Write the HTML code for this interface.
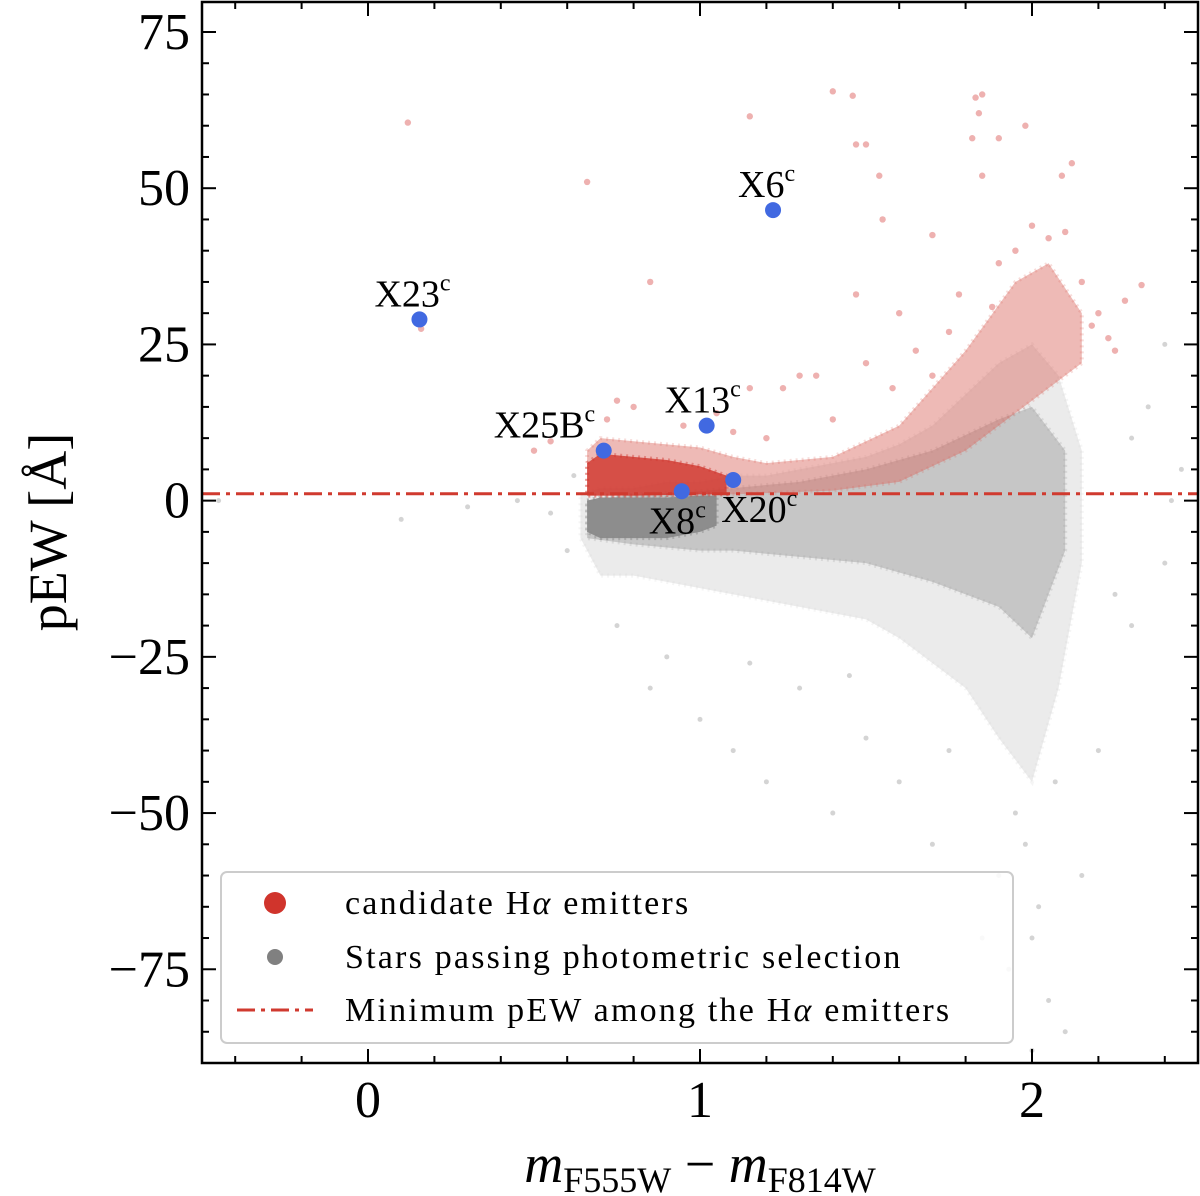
<!DOCTYPE html>
<html><head><meta charset="utf-8"><style>
html,body{margin:0;padding:0;background:#fff;}
body{position:relative;width:1200px;height:1196px;overflow:hidden}
svg{position:absolute;left:0;top:0}
svg text{font-family:"Liberation Serif","DejaVu Serif",serif;fill:#000;}
</style></head><body>
<svg id="chart" width="1200" height="1196" viewBox="0 0 1200 1196" xmlns="http://www.w3.org/2000/svg">
<g id="plot"></g>
<g id="axes"></g>
</svg>
<script>
// ---- data ----
const cloudX  = [0.64,0.7,0.8,0.9,1.0,1.1,1.2,1.3,1.4,1.5,1.6,1.7,1.8,1.9,2.0,2.08,2.15];
const cloudLo = [-6,-12,-12,-13,-14,-15,-16,-17,-18,-19,-22,-26,-30,-38,-45,-30,-10];
const cloudHi = [1,2,2,3,3,4,4,5,6,7,9,12,17,22,25,20,8];
const midX  = [0.66,0.8,1.0,1.1,1.3,1.5,1.7,1.9,2.0,2.1];
const midLo = [-6,-7,-8,-8,-9,-10,-13,-17,-22,-8];
const midHi = [0,1,1.5,2,3,5,8,13,15,8];
const coreX  = [0.66,0.7,0.8,0.9,1.0,1.05];
const coreLo = [-5,-6,-6,-6,-5,-4];
const coreHi = [0,0.5,0.5,0.5,0.8,0.8];
const redX  = [0.66,0.7,0.8,0.9,1.0,1.1,1.2,1.4,1.6,1.8,1.95,2.05,2.15];
const redLo = [0.8,0.8,0.8,0.9,1,1,1.2,1.6,3,8,14,18,22];
const redHi = [8,10,9.5,9,8.5,7,6,7,12,24,35,38,30];
const redCoreX  = [0.66,0.7,0.8,0.9,1.0,1.08];
const redCoreLo = [0.8,0.8,0.8,0.9,1,1];
const redCoreHi = [6,7.5,7,6.5,5.5,4];
const redPtsX = [0.12,0.66,0.85,1.15,1.4,1.46,1.47,1.5,1.54,1.83,1.85,1.84,1.82,1.9,1.98,1.85,1.7,1.55,2.05,2.1,2.12,2.09,1.47,1.6,1.75,2.33,2.25,1.3,1.25,0.55,0.5,0.75,0.72,0.8,1.15,1.35,1.5,1.65,1.9,1.95,2.0,2.15,2.2,1.78,1.88,0.16,1.05,0.95,1.1,1.2,1.4,1.58,1.7,2.18,2.23,2.28];
const redPtsY = [60.5,51,35,61.5,65.5,64.8,57,57,52,64.5,65,62,58,58,60,52,42.5,45,42,43,54,52,33,30,27,34.5,24,20,18,9.5,8,16,13,15,18,20,22,24,38,40,44,35,30,33,31,27.5,14,12,11,10,13,18,20,28,26,32];
const grayPtsX = [-0.45,0.3,0.1,0.45,0.55,1.0,1.2,1.1,1.5,1.7,1.9,2.0,2.05,2.1,1.95,2.2,2.3,2.4,2.45,2.35,2.4,1.3,0.9,0.75,1.6,2.15,1.85,2.0,0.6,0.62,2.25,2.3,2.42,1.45,1.75,1.98,2.02,1.93,2.07,1.4,0.85,1.15];
const grayPtsY = [0,-1,-3,0,-2,-35,-45,-40,-38,-55,-60,-70,-80,-85,-50,-40,-20,-10,5,15,25,-30,-25,-20,-45,-60,-70,-88,-8,4,-15,10,0,-28,-40,-55,-65,-75,-45,-50,-30,-26];
const blueX = [0.155,1.22,1.02,0.71,0.945,1.1];
const blueY = [29,46.5,12,8,1.5,3.3];
const blueLbl = ["X23","X6","X13","X25B","X8","X20"];
const lblDx = [-45,-35,-42,-110,-33,-12];
const lblDy = [-13,-13,-13,-13,42,42];
const minPEW = 1.1;
const xTicks = [0,1,2];
const yTicks = [75,50,25,0,-25,-50,-75];
// ---- axes ----
const L=202,R=1198,T=2,B=1063, xMin=-0.5,xMax=2.5,yMin=-90,yMax=79.8;
const sx=v=>L+(v-xMin)/(xMax-xMin)*(R-L);
const sy=v=>B-(v-yMin)/(yMax-yMin)*(B-T);
const NS="http://www.w3.org/2000/svg";
const plot=document.getElementById('plot'), axes=document.getElementById('axes');
function mk(tag,at,parent){const e=document.createElementNS(NS,tag);for(const k in at)e.setAttribute(k,at[k]);parent.appendChild(e);return e;}
function band(xs,lo,hi,fill,op,name){
  let p=xs.map((x,i)=>sx(x)+','+sy(hi[i])).join(' ')+' '+xs.map((x,i)=>sx(x)+','+sy(lo[i])).reverse().join(' ');
  const e=mk('polygon',{points:p,fill:fill,'fill-opacity':op,stroke:fill,'stroke-opacity':op*0.5,'stroke-width':4,'stroke-dasharray':'2,4'},plot);
  
  
}
band(cloudX,cloudLo,cloudHi,'#d8d8d8',0.5,'gray-star-cloud');
band(midX,midLo,midHi,'#a8a8a8',0.55,'gray-star-mid');
band(coreX,coreLo,coreHi,'#8a8a8a',0.95,'gray-star-core');
grayPtsX.forEach((x,i)=>{const c=mk('circle',{cx:sx(x),cy:sy(grayPtsY[i]),r:2.5,fill:'#aaa','fill-opacity':0.5},plot);

});
band(redX,redLo,redHi,'#d9655d',0.45,'red-emitter-cloud');
band(redCoreX,redCoreLo,redCoreHi,'#d0342c',0.8,'red-emitter-core');
redPtsX.forEach((x,i)=>{const c=mk('circle',{cx:sx(x),cy:sy(redPtsY[i]),r:3.2,fill:'#d9534f','fill-opacity':0.45},plot);

});
const ln=mk('line',{x1:L,x2:R,y1:sy(minPEW),y2:sy(minPEW),stroke:'#d03a2f','stroke-width':3,'stroke-dasharray':'18,6,4,6'},plot);


blueX.forEach((x,i)=>{const c=mk('circle',{cx:sx(x),cy:sy(blueY[i]),r:8,fill:'#4169e1'},plot);


const t=mk('text',{x:sx(x)+lblDx[i],y:sy(blueY[i])+lblDy[i],'font-size':38},plot);


t.textContent=blueLbl[i];const s=mk('tspan',{'font-size':24,dy:-16},t);s.textContent='c';});
const fr=mk('rect',{x:L,y:T,width:R-L,height:B-T,fill:'none',stroke:'#000','stroke-width':2.5},axes);


for(let v=-0.4;v<=2.41;v+=0.2){const X=sx(v);const maj=Math.abs(v-Math.round(v))<0.01;const len=maj?14:7;
mk('line',{x1:X,x2:X,y1:B,y2:B-len,stroke:'#000','stroke-width':2},axes);mk('line',{x1:X,x2:X,y1:T,y2:T+len,stroke:'#000','stroke-width':2},axes);}
for(let v=-85;v<=75;v+=5){const Y=sy(v);const maj=v%25===0;const len=maj?14:7;
mk('line',{x1:L,x2:L+len,y1:Y,y2:Y,stroke:'#000','stroke-width':2},axes);mk('line',{x1:R,x2:R-len,y1:Y,y2:Y,stroke:'#000','stroke-width':2},axes);}
xTicks.forEach(v=>{const t=mk('text',{x:sx(v),y:1117,'font-size':52,'text-anchor':'middle'},axes);


t.textContent=String(v);});
yTicks.forEach(v=>{const t=mk('text',{x:190,y:sy(v)+17,'font-size':52,'text-anchor':'end'},axes);


t.textContent=v<0?'\u2212'+(-v):String(v);});
</script>
<svg width="1200" height="1196" xmlns="http://www.w3.org/2000/svg">
<text transform="translate(66,532) rotate(-90)" font-size="54" text-anchor="middle">pEW [Å]</text>
<text x="700" y="1182" font-size="54" text-anchor="middle"><tspan font-style="italic">m</tspan><tspan font-size="36" dy="10">F555W</tspan><tspan dy="-10"> − </tspan><tspan font-style="italic">m</tspan><tspan font-size="36" dy="10">F814W</tspan></text>
<g>
<rect x="221" y="872" width="792" height="171" rx="6" fill="#fff" fill-opacity="0.85" stroke="#ccc" stroke-width="2"/>
<circle cx="275" cy="903" r="11" fill="#d0342c"/>
<text x="345" y="914" font-size="34" letter-spacing="2.2">candidate H<tspan font-style="italic">α</tspan> emitters</text>
<circle cx="275" cy="957" r="8" fill="#808080"/>
<text x="345" y="968" font-size="34" letter-spacing="2.2">Stars passing photometric selection</text>
<line x1="237" x2="313" y1="1010" y2="1010" stroke="#d03a2f" stroke-width="3" stroke-dasharray="18,6,4,6"/>
<text x="345" y="1021" font-size="34" letter-spacing="2.2">Minimum pEW among the H<tspan font-style="italic">α</tspan> emitters</text>
</g>
</svg>
</body></html>
